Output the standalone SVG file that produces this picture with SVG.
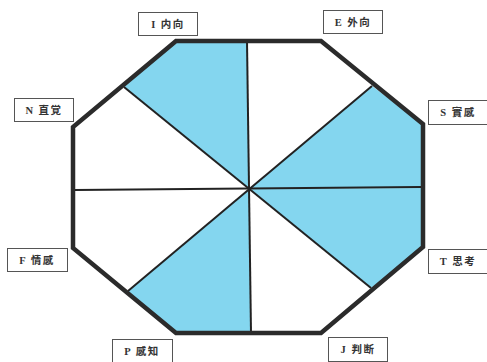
<svg xmlns="http://www.w3.org/2000/svg" width="487" height="362" viewBox="0 0 487 362">
<style>
.lbl rect{fill:#fff;stroke:#555;stroke-width:1}
.lbl text{font-family:"Liberation Serif","Noto Sans CJK TC",serif;font-size:10.5px;font-weight:bold;fill:#333;text-anchor:middle;dominant-baseline:central;letter-spacing:1.5px;white-space:pre}
.sec{fill:#84d6ef}
.spoke{stroke:#222;stroke-width:2;fill:none}
.oct{fill:none;stroke:#2b2b2b;stroke-width:4.5;stroke-linejoin:miter}
</style>
<rect width="487" height="362" fill="#fff"/>
<g id="sectors">
<polygon class="sec" points="249,189 247,41 176,41 124,87"/>
<polygon class="sec" points="249,189 372,86 423,124 423,188"/>
<polygon class="sec" points="249,189 423,188 423,247 371,288"/>
<polygon class="sec" points="249,189 128,291 176,333 251,333"/>
</g>
<g id="connectors">
<line class="spoke" x1="247" y1="41" x2="251" y2="333"/>
<line class="spoke" x1="75" y1="190" x2="421" y2="187"/>
<line class="spoke" x1="124" y1="87" x2="371" y2="288"/>
<line class="spoke" x1="372" y1="86" x2="128" y2="291"/>
</g>
<g id="octagon">
<polygon class="oct" points="176,41 321,41 423,124 423,247 321,333 176,333 73,248 73,127"/>
</g>
<g id="label-I" class="lbl"><rect x="138.5" y="12.5" width="59" height="23"/><text x="168" y="24">I 内向</text></g>
<g id="label-E" class="lbl"><rect x="323.5" y="10.5" width="59" height="23"/><text x="353" y="22">E 外向</text></g>
<g id="label-N" class="lbl"><rect x="14.5" y="98.5" width="59" height="23"/><text x="44" y="110">N 直覚</text></g>
<g id="label-S" class="lbl"><rect x="428.5" y="100.5" width="59" height="24"/><text x="458" y="112.5">S 實感</text></g>
<g id="label-F" class="lbl"><rect x="7.5" y="248.5" width="60" height="23"/><text x="37" y="260">F 情感</text></g>
<g id="label-T" class="lbl"><rect x="428.5" y="249.5" width="59" height="24"/><text x="458" y="261.5">T 思考</text></g>
<g id="label-P" class="lbl"><rect x="112.5" y="339.5" width="60" height="23"/><text x="142" y="351">P 感知</text></g>
<g id="label-J" class="lbl"><rect x="328.5" y="337.5" width="59" height="24"/><text x="358" y="349.5">J 判断</text></g>
</svg>
